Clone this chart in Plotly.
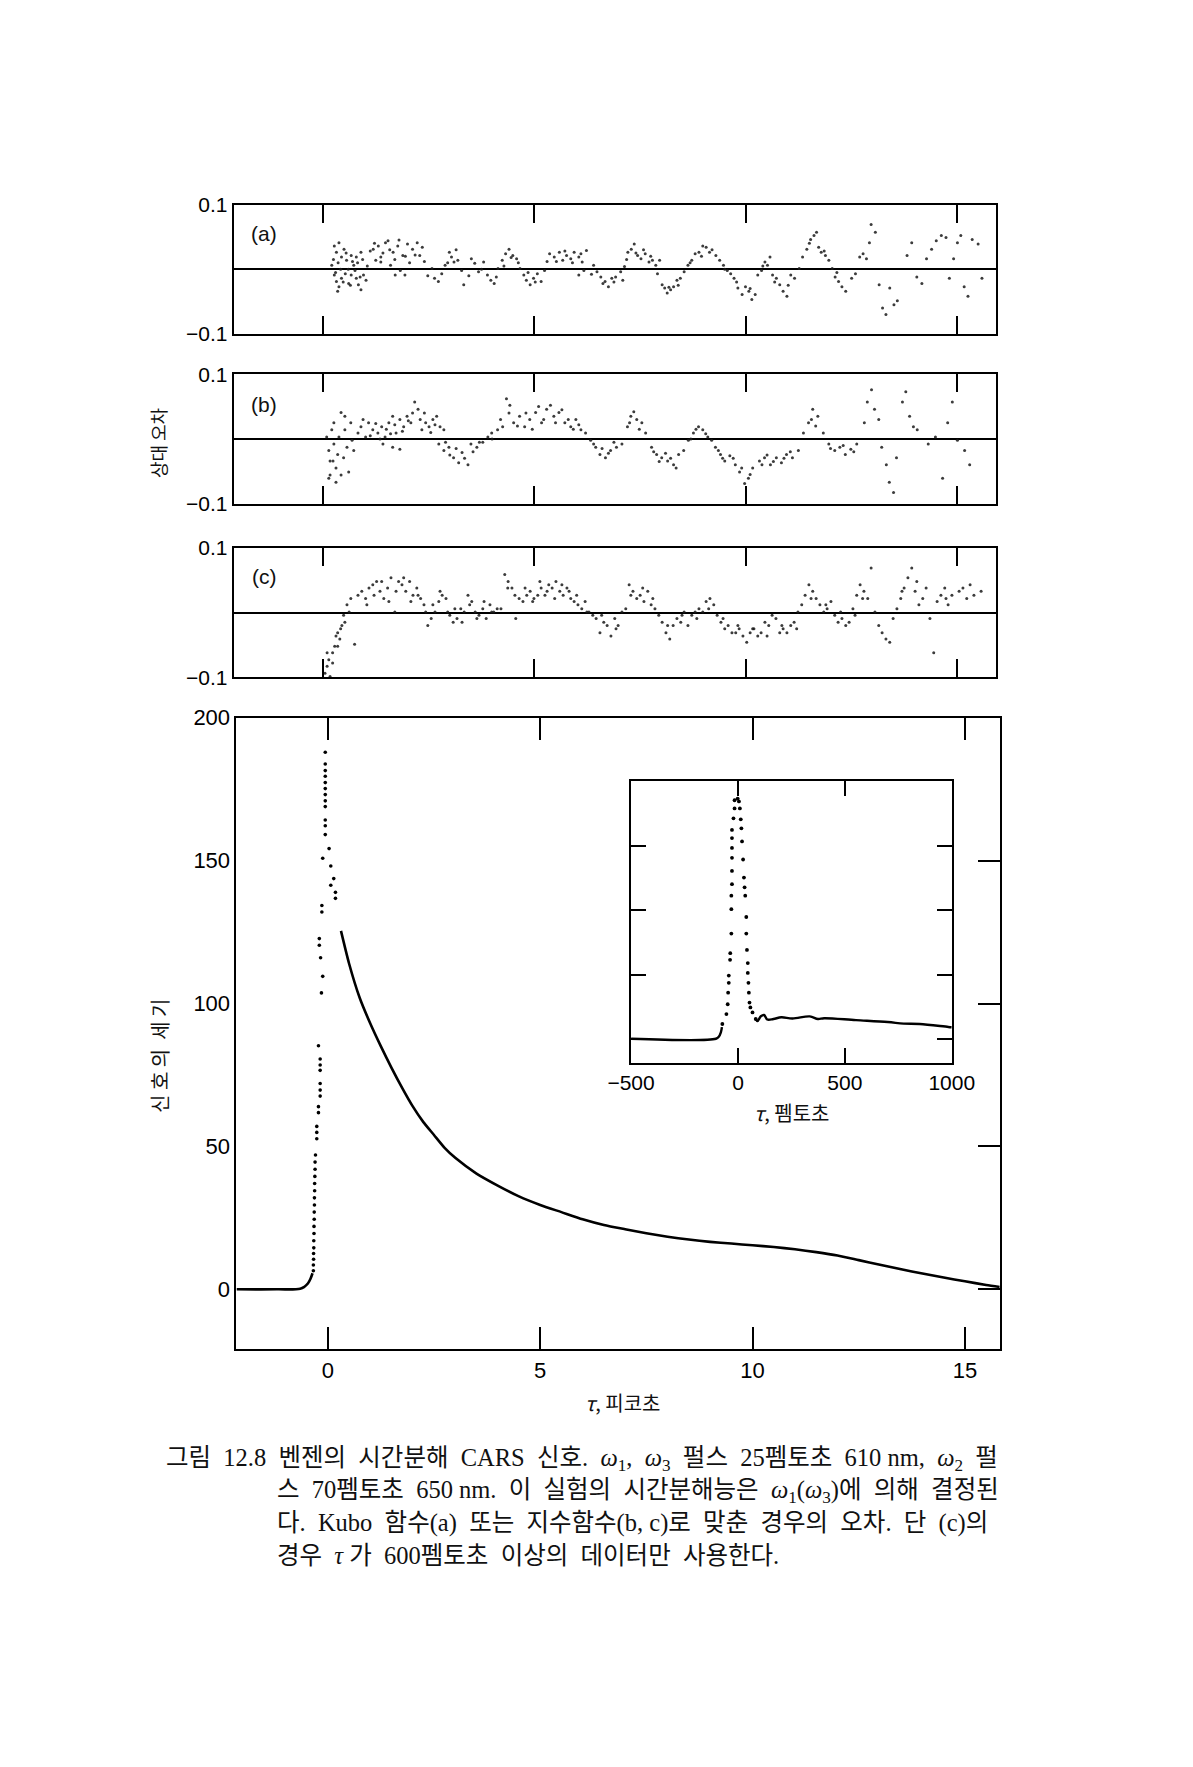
import plotly.graph_objects as go

W, H = 1193, 1767
OFF = 8                      # default page margin of the html body
FW, FH = W - 2 * OFF, H - 2 * OFF

# ---------------- data ----------------
# residual panel (a): Kubo-function fit, time in ps, relative error
a_t = [0.21,0.27,0.32,0.38,0.44,0.50,0.56,0.27,0.32,0.38,0.44,0.53,0.61,0.67,0.73,0.79,0.84,0.90,0.96,1.02,0.35,0.67,0.79,0.90,
       1.19,1.31,1.37,1.48,1.54,1.66,1.77,1.89,2.00,2.12,2.23,2.35,2.29,1.60,1.71,1.83,1.94,1.37,1.25,
       2.58,2.64,2.73,2.81,2.89,2.99,3.04,3.10,3.19,3.28,3.33,3.51,3.59,3.68,3.80,3.89,3.97,4.05,4.14,
       4.24,4.32,4.40,4.49,4.58,4.66,4.75,4.81,4.90,4.98,5.07,5.16,5.24,
       5.36,5.47,5.59,5.67,5.76,5.86,5.94,6.05,6.13,6.23,6.05,6.17,6.40,6.48,6.57,6.67,6.75,6.83,6.92,7.04,7.13,7.09,
       7.21,7.29,7.36,7.44,7.52,7.62,7.71,7.79,7.87,7.96,7.91,8.02,8.08,
       8.14,8.22,8.29,8.37,8.45,8.54,8.63,8.72,8.80,8.89,8.98,9.06,9.14,
       9.29,9.38,9.47,9.56,9.64,9.72,9.81,9.91,9.99,10.07,10.14,10.22,
       10.28,10.37,10.45,10.51,10.57,10.63,10.72,10.80,10.88,10.97,11.06,11.15,
       11.26,11.34,11.44,11.53,11.61,11.67,11.72,11.78,11.88,11.96,12.04,12.11,12.19,12.27,12.36,
       12.50,12.59,12.69,12.77,12.85,12.92,12.96,13.06,13.15,13.23,13.31,13.40,13.50,13.58,
       13.81,13.92,14.04,14.16,14.27,14.39,14.50,14.62,14.73,14.81,14.91,15.00,15.08,15.16,15.25,15.35,15.49,15.58,
       0.25,0.30,0.36,0.42,0.48,0.55,0.60,0.65,0.70,0.76,0.82,0.88,0.94,1.05,1.12,1.22,1.42,1.58,1.70,1.80,
       1.95,2.05,2.18,2.40,2.48,2.95,3.15,3.45,3.75,4.10,4.28,4.45,4.62,4.85,5.02,5.30,5.52,5.72,5.90,6.10,
       6.35,6.62,6.88,7.18,7.40,7.58,7.75,8.18,8.40,8.68,8.95,9.20,9.50,9.78,10.10,10.40,10.68,11.00,11.50,11.85,12.15]
a_r = [0.006,0.036,0.026,0.041,0.019,0.031,0.014,-0.009,-0.019,-0.027,-0.014,-0.007,-0.022,-0.009,0.006,-0.014,-0.024,-0.032,-0.009,-0.017,-0.034,0.021,0.019,0.026,
       0.031,0.036,0.019,0.041,0.044,0.026,0.036,0.021,0.039,0.031,0.041,0.034,0.021,0.006,-0.009,-0.002,-0.009,0.011,0.014,
       0.001,-0.014,-0.019,-0.007,0.006,0.026,0.019,0.011,0.014,-0.002,-0.024,0.016,0.009,-0.004,0.011,-0.009,-0.017,-0.022,0.001,
       0.014,0.024,0.031,0.021,0.016,0.001,-0.009,-0.017,-0.024,-0.014,-0.007,-0.019,-0.002,
       0.024,0.019,0.026,0.014,0.021,0.016,0.026,0.019,0.011,0.029,-0.009,-0.002,0.006,-0.004,-0.012,-0.019,-0.027,-0.014,-0.012,-0.004,0.004,-0.017,
       0.026,0.031,0.039,0.021,0.016,0.024,0.011,0.014,0.006,0.014,-0.007,-0.024,-0.029,
       -0.037,-0.032,-0.027,-0.017,-0.014,-0.004,0.006,0.014,0.024,0.026,0.036,0.034,0.026,
       0.021,0.014,0.006,-0.002,-0.007,-0.014,-0.029,-0.039,-0.027,-0.034,-0.047,-0.039,
       -0.009,-0.002,0.011,0.006,0.019,-0.009,-0.014,-0.024,-0.034,-0.042,-0.009,-0.014,
       0.001,0.019,0.031,0.046,0.052,0.057,0.034,0.026,0.021,0.014,0.001,-0.012,-0.019,-0.027,-0.034,
       -0.014,-0.007,0.019,0.024,0.016,0.041,0.069,0.057,-0.024,-0.060,-0.070,-0.029,-0.055,-0.049,
       0.021,0.041,-0.012,-0.022,0.016,0.031,0.044,0.052,0.049,-0.014,0.016,0.041,0.052,-0.027,-0.042,0.046,0.039,-0.014,
       0.015,-0.005,0.010,0.000,-0.020,0.025,0.000,-0.025,0.012,-0.002,0.010,-0.012,0.015,0.005,0.028,0.040,0.025,0.030,0.015,0.045,
       0.020,0.010,0.022,0.012,-0.010,0.010,0.030,-0.010,0.000,-0.012,0.005,0.018,0.010,-0.005,-0.020,0.012,0.012,0.028,0.010,0.024,
       -0.008,-0.022,-0.020,0.015,0.025,0.030,0.020,-0.028,-0.025,0.010,0.020,0.030,0.000,-0.020,-0.030,0.005,-0.020,-0.025,0.040,0.028,-0.005]

# residual panel (b): exponential fit
b_t = [0.09,0.14,0.17,0.17,0.21,0.26,0.26,0.31,0.35,0.38,0.43,0.43,0.49,0.52,0.52,0.57,0.61,0.66,0.69,0.73,0.14,0.31,0.24,
       0.83,0.90,1.01,1.08,1.18,1.30,1.39,1.47,1.56,1.65,1.73,1.82,1.91,1.99,2.08,2.17,2.25,2.34,2.43,2.51,2.60,2.69,2.77,2.86,1.42,1.65,1.82,
       2.74,2.86,2.98,3.09,3.21,3.29,3.43,3.50,3.64,3.78,3.90,3.99,
       4.13,4.25,4.34,4.42,4.51,4.65,4.77,4.89,5.03,5.17,5.29,5.38,5.46,5.58,5.72,5.86,5.98,6.10,6.21,
       6.33,6.45,6.55,6.68,6.80,6.94,7.07,
       7.20,7.28,7.42,7.54,7.63,
       7.77,7.89,8.01,8.15,8.29,8.41,8.53,
       8.64,8.76,8.88,8.98,9.10,9.19,
       9.28,9.40,9.50,9.62,9.75,9.85,9.97,10.06,10.16,
       10.32,10.44,10.58,10.72,10.84,10.96,11.10,11.24,
       11.36,11.48,11.58,11.70,11.83,
       11.96,12.10,12.22,12.35,12.48,12.62,
       12.80,12.87,12.97,13.04,13.14,
       13.21,13.32,13.39,13.49,13.56,
       13.70,13.78,13.87,13.96,14.05,
       14.31,14.48,14.65,14.77,14.88,15.00,15.17,15.29,
       0.95,1.12,1.25,1.35,1.50,1.60,1.70,1.88,2.02,2.12,2.30,2.40,2.55,2.65,2.90,3.00,3.15,3.35,3.55,3.70,
       4.00,4.20,4.40,4.60,4.80,4.95,5.10,5.22,5.50,5.65,5.80,5.92,6.05,6.40,6.60,6.75,6.88,7.25,7.35,7.48,
       7.82,7.95,8.10,8.22,8.35,8.70,8.82,9.05,9.35,9.45,9.70,9.90,10.10,10.38,10.50,10.65,10.90,11.05,11.55,11.65,
       12.00,12.30,12.55]
b_r = [0.003,-0.018,-0.034,-0.056,0.014,0.025,-0.008,-0.045,-0.024,0.003,0.041,-0.056,-0.029,0.014,0.035,-0.013,-0.051,0.025,-0.002,-0.018,-0.061,-0.067,-0.034,
       0.009,0.019,0.003,0.025,0.014,0.009,0.019,0.003,0.025,0.035,0.009,0.030,0.019,0.035,0.025,0.057,0.046,0.014,0.025,0.019,0.030,0.035,0.019,0.014,-0.008,-0.013,-0.016,
       -0.008,-0.018,-0.013,-0.029,-0.037,-0.021,-0.040,-0.008,-0.013,-0.005,0.003,0.009,
       0.014,0.019,0.062,0.052,0.025,0.035,0.019,0.030,0.041,0.025,0.046,0.052,0.035,0.041,0.025,0.019,0.030,0.014,0.009,
       -0.002,-0.013,-0.024,-0.029,-0.018,-0.013,-0.008,
       0.019,0.035,0.030,0.025,0.009,
       -0.013,-0.024,-0.029,-0.034,-0.040,-0.024,-0.018,
       -0.002,0.009,0.019,0.014,0.003,-0.002,
       -0.013,-0.024,-0.034,-0.026,-0.040,-0.051,-0.069,-0.061,-0.045,
       -0.034,-0.029,-0.040,-0.029,-0.037,-0.024,-0.029,-0.018,
       0.009,0.025,0.046,0.035,0.009,
       -0.008,-0.018,-0.013,-0.024,-0.016,-0.008,
       0.025,0.057,0.076,0.046,0.030,
       -0.013,-0.040,-0.067,-0.083,-0.029,
       0.057,0.073,0.035,0.019,0.014,
       -0.008,0.003,-0.061,0.025,0.057,-0.002,-0.018,-0.040,
       0.030,0.005,0.024,0.000,0.015,0.008,0.022,0.012,0.028,0.040,0.030,0.040,0.010,0.022,-0.005,-0.025,-0.015,-0.030,-0.020,-0.005,
       0.000,0.030,0.040,0.020,0.040,0.015,0.050,0.030,0.025,0.045,0.030,0.015,0.022,-0.008,-0.015,-0.022,-0.005,0.025,0.042,0.015,
       -0.020,-0.035,-0.022,-0.030,-0.045,0.000,0.015,0.008,-0.018,-0.030,-0.030,-0.045,-0.055,-0.040,-0.025,-0.035,-0.030,-0.020,0.030,0.020,
       -0.015,-0.010,-0.020]

# residual panel (c): exponential fit using tau > 600 fs
c_t = [0.05,0.10,0.14,0.17,0.23,0.28,0.31,0.35,0.40,0.45,0.49,0.52,0.57,0.62,0.66,0.75,0.10,0.23,0.35,0.42,
       0.83,0.92,1.01,1.09,1.18,1.27,1.35,1.44,1.53,1.61,1.70,1.79,1.87,1.96,2.05,2.13,2.22,2.31,2.39,2.48,
       2.56,2.65,2.74,2.82,2.91,3.00,3.08,3.17,3.26,3.34,3.43,3.52,3.60,3.69,3.78,3.86,3.95,4.04,4.12,4.21,
       4.30,4.38,4.47,4.56,4.64,4.73,4.82,4.90,4.99,5.08,5.16,5.25,5.34,5.42,5.51,5.60,5.68,5.77,5.86,5.94,
       6.03,6.12,6.20,6.29,6.38,6.46,6.55,6.64,6.72,6.81,6.90,6.98,7.07,7.16,7.24,7.33,7.42,7.50,7.59,7.68,
       7.76,7.85,7.94,8.02,8.11,8.20,8.28,8.37,8.46,8.54,8.63,8.72,8.80,8.89,8.98,9.06,9.15,9.24,9.32,9.41,
       9.50,9.58,9.67,9.76,9.84,9.93,10.02,10.10,10.19,10.28,10.36,10.45,10.54,10.62,10.71,10.80,10.88,10.97,11.06,11.14,
       11.23,11.32,11.40,11.49,11.58,11.66,11.75,11.84,11.92,12.01,12.10,12.18,12.27,12.36,12.44,12.53,12.62,12.70,12.79,12.88,
       12.96,13.05,13.14,13.22,13.31,13.40,13.48,13.57,13.66,13.74,13.83,13.92,14.00,14.09,14.18,14.26,14.35,14.44,14.52,14.61,
       14.70,14.78,14.87,15.04,15.22,15.30,15.39,15.56,
       1.04,1.21,1.39,1.56,1.73,1.91,2.08,2.25,2.43,2.60,2.77,2.95,3.12,3.29,3.47,3.64,3.81,3.99,4.37,4.54,
       4.78,4.96,5.13,5.30,5.48,5.65,5.82,6.00,6.24,6.59,6.93,7.28,7.56,7.80,8.15,8.49,8.84,9.12,9.46,9.81,
       10.16,10.50,10.85,11.20,11.54,11.89,12.24,12.58,12.76,13.69,14.04,14.73,15.13]
c_r = [-0.094,-0.083,-0.073,-0.099,-0.062,-0.052,-0.036,-0.031,-0.041,-0.020,-0.004,-0.015,0.012,0.001,0.022,-0.049,-0.062,-0.078,-0.052,-0.025,
       0.027,0.033,0.022,0.038,0.043,0.048,0.033,0.022,0.038,0.054,0.001,0.048,0.043,0.033,0.048,0.027,0.038,0.022,0.012,-0.020,
       -0.009,0.001,0.017,0.027,0.022,-0.004,-0.015,-0.009,0.006,0.001,0.027,0.017,0.001,-0.004,0.006,-0.009,0.012,0.001,0.006,0.006,
       0.059,0.048,0.038,-0.009,0.022,0.017,0.027,0.033,0.022,0.027,0.038,0.027,0.043,0.038,0.048,0.033,0.027,0.038,0.022,0.017,
       0.012,0.006,0.017,0.001,-0.004,-0.009,-0.031,-0.015,-0.020,-0.036,-0.009,-0.020,0.001,0.006,0.043,0.033,0.022,0.027,0.017,0.033,
       0.012,0.006,-0.004,-0.015,-0.031,-0.041,-0.020,-0.009,-0.015,0.001,-0.020,-0.004,0.001,0.006,0.001,0.017,0.022,0.012,-0.004,-0.015,
       -0.025,-0.020,-0.031,-0.031,-0.025,-0.036,-0.046,-0.031,-0.025,-0.036,-0.031,-0.015,-0.020,-0.004,-0.009,-0.031,-0.025,-0.031,-0.020,-0.015,
       0.001,0.012,0.027,0.043,0.033,0.022,0.012,0.001,0.006,0.017,-0.004,-0.015,-0.009,-0.020,-0.015,0.006,0.027,0.043,0.033,0.022,
       0.069,0.001,-0.020,-0.031,-0.041,-0.046,-0.009,0.006,0.022,0.038,0.054,0.069,0.033,0.012,0.022,0.038,-0.009,-0.062,0.017,0.027,
       0.038,0.012,0.027,0.033,0.022,0.043,0.027,0.033,
       0.012,0.027,0.048,0.017,0.033,0.054,0.017,0.027,0.001,0.012,0.033,0.001,0.006,-0.015,0.012,-0.009,0.017,0.001,0.038,0.027,
       0.038,0.017,0.048,0.033,0.022,0.043,0.033,0.027,0.001,-0.004,-0.025,0.027,0.038,0.022,-0.020,-0.004,-0.009,0.006,-0.009,-0.020,
       -0.025,-0.036,-0.020,-0.025,0.022,0.012,0.001,-0.004,0.022,0.033,0.048,0.022,0.038]

# main panel: CARS signal vs delay (ps)
pre_t = [-2.15, -1.20, -0.65, -0.55, -0.47, -0.41, -0.36]
pre_v = [0.0, 0.0, 0.2, 0.9, 2.0, 3.6, 5.6]
dot_t = [-0.34,-0.34,-0.335,-0.335,-0.33,-0.33,-0.325,-0.325,-0.32,-0.32,-0.315,-0.315,-0.31,-0.31,-0.305,-0.30,-0.30,
         -0.29,-0.26,-0.26,-0.26,-0.22,-0.22,-0.18,-0.18,-0.18,-0.18,-0.18,-0.18,-0.22,-0.15,-0.12,-0.17,-0.20,-0.20,
         -0.14,-0.14,-0.12,-0.06,-0.06,-0.06,-0.06,-0.06,-0.06,-0.06,-0.06,-0.06,-0.06,-0.06,-0.06,
         0.03,0.07,0.14,0.07,0.18,0.18]
dot_v = [6.5,8.5,10.5,12.5,14.5,17.0,19.5,22.0,24.5,27.0,29.5,32.0,34.5,37.0,39.5,42.0,44.5,
         47.0,52.7,54.9,57.0,61.8,63.9,67.6,69.7,72.0,76.6,78.5,80.6,85.2,103.7,109.5,116.0,120.4,122.7,
         132.0,134.3,150.8,159.1,162.2,164.2,168.9,170.9,173.1,175.2,177.3,179.5,181.5,183.8,187.9,
         154.2,148.1,143.7,141.4,138.9,136.8]
decay_t = [0.31, 0.5, 0.75, 1.0, 1.25, 1.5, 1.75, 2.0, 2.25, 2.5, 2.75, 3.0, 3.5, 4.0, 4.5, 5.0, 5.5, 6.0, 6.5,
           7.0, 7.5, 8.0, 8.5, 9.0, 9.5, 10.0, 10.5, 11.0, 11.5, 12.0, 12.5, 13.0, 13.5, 14.0, 14.5, 15.0, 15.5, 15.82]
decay_v = [125.4, 114.0, 102.0, 93.0, 85.0, 77.5, 70.5, 64.0, 58.5, 54.0, 49.5, 46.0, 40.5, 36.3, 32.5, 29.5, 27.0, 24.5, 22.5,
           21.0, 19.6, 18.4, 17.4, 16.6, 16.0, 15.4, 14.8, 14.0, 13.0, 11.8, 10.2, 8.6, 7.0, 5.5, 4.1, 2.8, 1.5, 0.8]

# inset: delay in fs
in_pre_t = [-500, -103, -90, -80, -75]
in_pre_v = [0.0, 0.0, 1.5, 5.0, 9.0]
in_dot_t = [-73,-54,-48,-46,-43,-43,-37,-36,-31,-31,-31,-28,-28,-28,-28,-28,-28,-21,-16,-16,
            -1.5,4.5,9,13,16,19,24,28,31,34,39,39,42,46,46,49,51,54,58,68,83]
in_dot_v = [11.5,19.2,26.9,35.9,43.6,49.2,61.5,66.7,82.0,101.0,111.5,120.5,130.8,141.0,148.7,156.4,162.8,171.8,179.5,185.9,
            187.2,185.0,179.5,171.0,164.0,153.8,139.7,125.6,118.0,111.5,94.9,82.0,69.2,59.0,51.3,43.6,35.9,28.2,24.4,20.5,15.4]
in_tail_t = [83, 91, 107, 122, 137, 166, 203, 255, 336, 374, 403, 552, 701, 775, 850, 984, 1000]
in_tail_v = [15.4, 13.8, 17.5, 18.5, 15.0, 15.4, 16.7, 15.8, 17.4, 15.4, 16.0, 14.5, 13.0, 11.8, 11.5, 9.2, 9.0]

res_ticks = [0, 5, 10, 15]
res_yticks = [-0.1, 0.1]
res_ytext = ["\u22120.1", "0.1"]
main_yticks = [0, 50, 100, 150, 200]
inset_xticks = [-500, 0, 500, 1000]
inset_xtext = ["\u2212500", "0", "500", "1000"]
panel_labels = ["(a)", "(b)", "(c)"]

caption = [
    "그림  12.8  벤젠의  시간분해  CARS  신호.  <i>ω</i><sub>1</sub>,  <i>ω</i><sub>3</sub>  펄스  25펨토초  610 nm,  <i>ω</i><sub>2</sub>  펄",
    "스  70펨토초  650 nm.  이  실험의  시간분해능은  <i>ω</i><sub>1</sub>(<i>ω</i><sub>3</sub>)에  의해  결정된",
    "다.  Kubo  함수(a)  또는  지수함수(b, c)로  맞춘  경우의  오차.  단  (c)의",
    "경우  <i>τ</i> 가  600펨토초  이상의  데이터만  사용한다.",
]

# ---------------- figure ----------------
def fx(px):
    return (px - OFF) / FW

def fy(py):
    return 1 - (py - OFF) / FH

SANS = "Liberation Sans, Arial, sans-serif"
KR = "Noto Sans CJK KR, sans-serif"
CAP = "Liberation Serif, Noto Sans CJK KR, serif"

fig = go.Figure()
dot_style = dict(size=3.0, color="#1a1a1a", opacity=0.85)
for i, (t, r) in enumerate([(a_t, a_r), (b_t, b_r), (c_t, c_r)]):
    k = "" if i == 0 else str(i + 1)
    fig.add_trace(go.Scatter(x=t, y=r, mode="markers", marker=dot_style,
                             xaxis="x" + k, yaxis="y" + k, showlegend=False, hoverinfo="skip"))

fig.add_trace(go.Scatter(x=pre_t, y=pre_v, mode="lines", line=dict(color="black", width=2.6, shape="spline"),
                         xaxis="x4", yaxis="y4", showlegend=False))
fig.add_trace(go.Scatter(x=dot_t, y=dot_v, mode="markers", marker=dict(size=3.6, color="black"),
                         xaxis="x4", yaxis="y4", showlegend=False))
fig.add_trace(go.Scatter(x=decay_t, y=decay_v, mode="lines",
                         line=dict(color="black", width=2.6, shape="spline", smoothing=0.6),
                         xaxis="x4", yaxis="y5", showlegend=False))

fig.add_trace(go.Scatter(x=in_pre_t, y=in_pre_v, mode="lines", line=dict(color="black", width=2.4, shape="spline"),
                         xaxis="x6", yaxis="y6", showlegend=False))
fig.add_trace(go.Scatter(x=in_dot_t, y=in_dot_v, mode="markers", marker=dict(size=3.8, color="black"),
                         xaxis="x6", yaxis="y6", showlegend=False))
fig.add_trace(go.Scatter(x=in_tail_t, y=in_tail_v, mode="lines", line=dict(color="black", width=2.4, shape="spline"),
                         xaxis="x6", yaxis="y6", showlegend=False))

res_dom_x = [fx(218), fx(1012)]
res_dom_y = [[fy(326), fy(195)], [fy(498), fy(367)], [fy(674), fy(543)]]
layout = dict(width=FW, height=FH, margin=dict(l=0, r=0, t=0, b=0),
              paper_bgcolor="white", plot_bgcolor="white", showlegend=False)
for i in range(3):
    k = "" if i == 0 else str(i + 1)
    layout["xaxis" + k] = dict(domain=res_dom_x, range=[-2.11, 15.91], anchor="y" + k,
                               tickvals=res_ticks, showticklabels=False, ticks="inside", ticklen=18,
                               tickwidth=2, tickcolor="black", showline=True, linecolor="black", linewidth=2,
                               mirror="ticks", showgrid=False, zeroline=False)
    layout["yaxis" + k] = dict(domain=res_dom_y[i], range=[-0.1, 0.1], anchor="x" + k,
                               tickvals=res_yticks, ticktext=res_ytext, ticks="",
                               tickfont=dict(family=SANS, size=21, color="black"),
                               showline=True, linecolor="black", linewidth=2, mirror=True,
                               showgrid=False, zeroline=True, zerolinecolor="black", zerolinewidth=2)

main_x_dom = [fx(221), fx(1016)]
main_y_dom = [fy(1355), fy(715)]
layout["xaxis4"] = dict(domain=main_x_dom, range=[-2.15, 15.82], anchor="y4",
                        tickvals=res_ticks, ticks="inside", ticklen=22, tickwidth=2, tickcolor="black",
                        tickfont=dict(family=SANS, size=22, color="black"),
                        showline=True, linecolor="black", linewidth=2, mirror="ticks",
                        showgrid=False, zeroline=False)
layout["yaxis4"] = dict(domain=main_y_dom, range=[-21, 200], anchor="x4",
                        tickvals=main_yticks, ticks="",
                        tickfont=dict(family=SANS, size=22, color="black"),
                        showline=True, linecolor="black", linewidth=2, mirror=True,
                        showgrid=False, zeroline=False)
layout["yaxis5"] = dict(domain=main_y_dom, range=[-21, 200], anchor="x4", overlaying="y4", side="right",
                        tickvals=main_yticks[:4], ticks="inside", ticklen=22, tickwidth=2, tickcolor="black",
                        showticklabels=False, showline=False, showgrid=False, zeroline=False)
layout["xaxis6"] = dict(domain=[fx(632), fx(966)], range=[-500, 1000], anchor="y6",
                        tickvals=inset_xticks, ticktext=inset_xtext, ticks="inside", ticklen=15, tickwidth=2,
                        tickcolor="black", tickfont=dict(family=SANS, size=21, color="black"),
                        showline=True, linecolor="black", linewidth=2, mirror="ticks",
                        showgrid=False, zeroline=False)
layout["yaxis6"] = dict(domain=[fy(1065), fy(779)], range=[-19, 201], anchor="x6",
                        tickvals=main_yticks[:4], ticks="inside", ticklen=15, tickwidth=2, tickcolor="black",
                        showticklabels=False, showline=True, linecolor="black", linewidth=2, mirror="ticks",
                        showgrid=False, zeroline=False)
fig.update_layout(**layout)

def note(text, px, py, size, family, angle=0, xanchor="center"):
    return dict(text=text, x=fx(px), y=fy(py), xref="paper", yref="paper", showarrow=False,
                xanchor=xanchor, yanchor="middle", textangle=angle,
                font=dict(family=family, size=size, color="#111111"))

ann = []
for lab, py in zip(panel_labels, [224, 398, 572]):
    ann.append(note(lab, 250, py, 21, SANS))
ann.append(note("상대 오차", 140, 436, 18, KR, angle=-90))
ann.append(note("신 호 의  세 기", 140, 1058, 20, KR, angle=-90))
ann.append(note("<i>τ</i>, 피코초", 624, 1409, 20, KR))
ann.append(note("<i>τ</i>, 펨토초", 800, 1115, 20, KR))
for j, (line, py) in enumerate(zip(caption, [1467, 1499, 1531, 1564])):
    ann.append(note(line, 146 if j == 0 else 261, py, 24.5, CAP, xanchor="left"))
fig.update_layout(annotations=ann)

fig.write_html("out.html")
